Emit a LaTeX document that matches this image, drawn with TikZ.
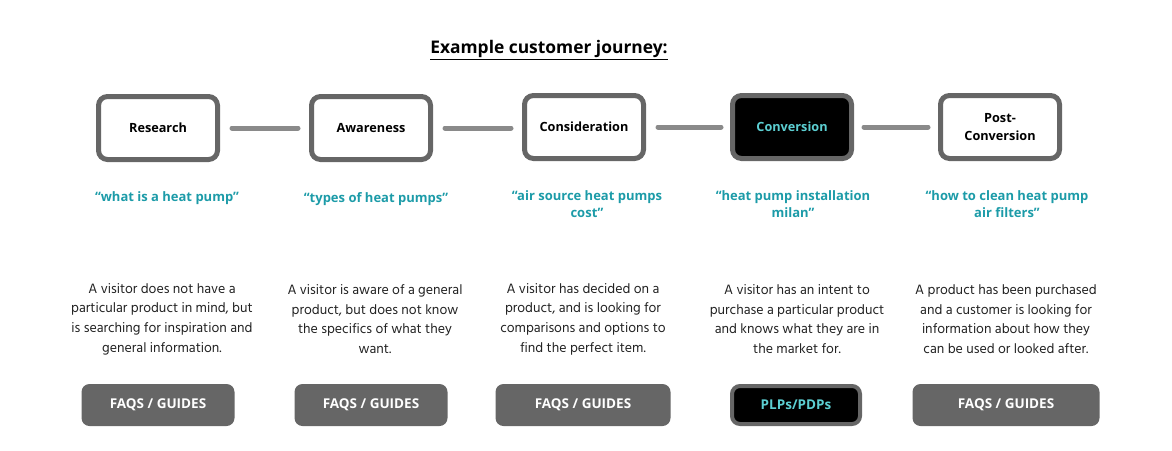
\documentclass[tikz,border=0pt]{standalone}
\usepackage{fontspec}
\setmainfont{Hind Madurai}
\newfontfamily\labelfont{Open Sans}
\usepackage{tikz}
\usetikzlibrary{positioning}
\definecolor{framegrey}{HTML}{666666}
\definecolor{linkgrey}{HTML}{8A8A8A}
\definecolor{querycyan}{HTML}{1C9BA8}
\definecolor{convcyan}{HTML}{5CCFD2}
\definecolor{bodyblack}{HTML}{222222}
\tikzset{
    stagebox/.style={draw=framegrey, line width=5pt, rounded corners=9pt, fill=white,
        minimum width=119pt, minimum height=63pt, align=center,
        font=\labelfont\bfseries\fontsize{12.7}{18}\selectfont},
    stagelink/.style={linkgrey, line width=5pt, line cap=round},
    query/.style={querycyan, align=center, font=\labelfont\bfseries\fontsize{13}{16.5}\selectfont},
    blurb/.style={bodyblack, align=center, font=\fontsize{13.9}{19.6}\selectfont},
    pagebtn/.style={fill=framegrey, rounded corners=8pt, minimum height=42pt, text=white,
        font=\labelfont\bfseries\fontsize{13.5}{15}\selectfont}}

\begin{document}
\begin{tikzpicture}[x=1pt, y=-1pt]
            
                    \useasboundingbox (0,0) rectangle (1172,450);
                    \node[font=\labelfont\bfseries\fontsize{17.4}{20}\selectfont] (title) at (549,50) {\underline{Example customer journey:}};
                
                    \node[stagebox] (research) at (158,128) {Research};
                    \node[stagebox] (awareness) at (371,128) {Awareness};
                    \node[stagebox] (consideration) at (584,127) {Consideration};
                    \node[stagebox, fill=black, text=convcyan] (conversion) at (792,127) {Conversion};
                    \node[stagebox] (postconv) at (1000,127) {Post-\\Conversion};
                
                    \draw[stagelink] ([xshift=12pt]research.east) -- ([xshift=-11pt]awareness.west);
                    \draw[stagelink] ([xshift=12pt]awareness.east) -- ([xshift=-11pt]awareness.east -| consideration.west);
                    \draw[stagelink] ([xshift=12pt]consideration.east) -- ([xshift=-9pt]conversion.west);
                    \draw[stagelink] ([xshift=10pt]conversion.east) -- ([xshift=-10pt]postconv.west);
                
                    \node[query] (q1) at (167,198) {“what is a heat pump”};
                    \node[query] (q2) at (376,199) {“types of heat pumps”};
                    \node[query] (q3) at (587,204) {“air source heat pumps\\cost”};
                    \node[query] (q4) at (793,204) {“heat pump installation\\milan”};
                    \node[query] (q5) at (1007,204) {“how to clean heat pump\\air filters”};
                
                    \node[blurb] (d1) at (162,319) {A visitor does not have a\\particular product in mind, but\\is searching for inspiration and\\general information.};
                    \node[blurb] (d2) at (375,319) {A visitor is aware of a general\\product, but does not know\\the specifics of what they\\want.};
                    \node[blurb] (d3) at (583,319) {A visitor has decided on a\\product, and is looking for\\comparisons and options to\\find the perfect item.};
                    \node[blurb] (d4) at (797,319) {A visitor has an intent to\\purchase a particular product\\and knows what they are in\\the market for.};
                    \node[blurb] (d5) at (1006,319) {A product has been purchased\\and a customer is looking for\\information about how they\\can be used or looked after.};
                
                    \node[pagebtn, minimum width=153pt] (b1) at (158,405) {FAQS / GUIDES};
                    \node[pagebtn, minimum width=153pt] (b2) at (371,405) {FAQS / GUIDES};
                    \node[pagebtn, minimum width=175pt] (b3) at (583,405) {FAQS / GUIDES};
                    \node[pagebtn, minimum width=128pt, minimum height=38pt, fill=black, draw=framegrey, line width=4pt, text=convcyan] (b4) at (796,405) {PLPs/PDPs};
                    \node[pagebtn, minimum width=187pt] (b5) at (1006,405) {FAQS / GUIDES};
            
                \end{tikzpicture}
\end{document}
